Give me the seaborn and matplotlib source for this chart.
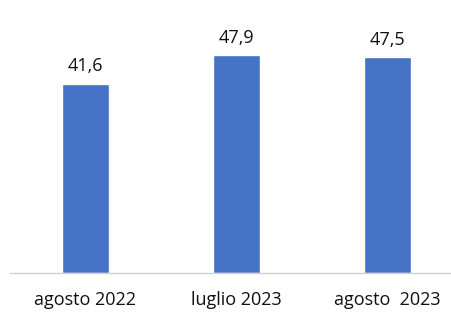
import matplotlib
matplotlib.use("Agg")
import matplotlib.pyplot as plt
import seaborn as sns
import pandas as pd

# data
periods = ["agosto 2022", "luglio 2023", "agosto  2023"]
values = [41.6, 47.9, 47.5]
value_labels = ["41,6", "47,9", "47,5"]

df = pd.DataFrame({"period": periods, "value": values})

sns.set_style("white")
plt.rcParams["font.family"] = ["Open Sans", "DejaVu Sans"]

fig = plt.figure(figsize=(4.51, 3.14), dpi=100)
ax = fig.add_axes([10 / 451, 41 / 314, 441 / 451, 273 / 314])

sns.barplot(data=df, x="period", y="value", color="#4472C4", width=0.31,
            saturation=1, ax=ax)

for i, lab in enumerate(value_labels):
    ax.annotate(lab, (i, values[i]), xytext=(0, 6), textcoords="offset points",
                ha="center", va="bottom", fontsize=13, color="#111111")

ax.set_ylim(0, 60)
ax.set_xlim(-0.5, 2.5 - 12 / 151)
ax.set_xlabel("")
ax.set_ylabel("")
ax.set_yticks([])
for s in ["top", "right", "left"]:
    ax.spines[s].set_visible(False)
ax.spines["bottom"].set_color("#d0d0d0")
ax.spines["bottom"].set_linewidth(1)
ax.tick_params(axis="x", length=0, labelsize=13, pad=13, colors="#111111")

fig.savefig("out.png", dpi=100)
